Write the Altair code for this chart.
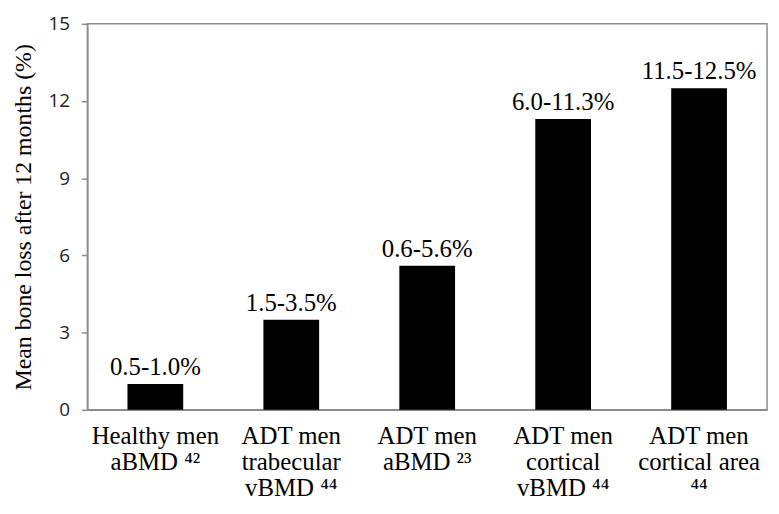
import altair as alt
import pandas as pd

categories = ["Healthy men aBMD 42", "ADT men trabecular vBMD 44", "ADT men aBMD 23",
              "ADT men cortical vBMD 44", "ADT men cortical area 44"]
category_lines = [
    ["Healthy men", "aBMD \u2074\u00b2"],
    ["ADT men", "trabecular", "vBMD \u2074\u2074"],
    ["ADT men", "aBMD \u00b2\u00b3"],
    ["ADT men", "cortical", "vBMD \u2074\u2074"],
    ["ADT men", "cortical area", "\u2074\u2074"],
]
values = [1.0, 3.5, 5.6, 11.3, 12.5]
range_labels = ["0.5-1.0%", "1.5-3.5%", "0.6-5.6%", "6.0-11.3%", "11.5-12.5%"]
y_ticks = [0, 3, 6, 9, 12, 15]

df = pd.DataFrame({"cat": categories, "value": values, "label": range_labels})

label_expr = "{" + ", ".join(
    f'"{c}": {lines!r}'.replace("'", '"') for c, lines in zip(categories, category_lines)
) + "}[datum.value]"

x = alt.X("cat:N", sort=categories, title=None,
          scale=alt.Scale(paddingInner=0.59, paddingOuter=0.295),
          axis=alt.Axis(labelAngle=0, labelExpr=label_expr, ticks=False,
                        labelFont="Liberation Serif", labelFontSize=25, labelColor="#000",
                        labelLineHeight=26, labelPadding=14, domainColor="#8c8c8c",
                        domainWidth=1.5, labelBaseline="top"))

bars = alt.Chart(df).mark_bar(color="#000").encode(
    x=x,
    y=alt.Y("value:Q", title="Mean bone loss after 12 months (%)",
            scale=alt.Scale(domain=[0, 15], nice=False),
            axis=alt.Axis(values=y_ticks, grid=False,
                          labelFont="Open Sans", labelFontSize=19, labelColor="#222",
                          labelPadding=12, tickSize=6, tickColor="#8c8c8c", tickWidth=1.5,
                          domainColor="#8c8c8c", domainWidth=1.5,
                          titleFont="Liberation Serif", titleFontSize=24, titleFontWeight="normal",
                          titleColor="#000", titlePadding=13)),
)

text = alt.Chart(df).mark_text(font="Liberation Serif", fontSize=25, color="#000",
                               baseline="bottom", dy=-4).encode(
    x=alt.X("cat:N", sort=categories),
    y="value:Q",
    text="label:N",
)

chart = (bars + text).properties(
    width=685, height=389,
    autosize=alt.AutoSizeParams(type="none"),
    padding={"left": 80, "top": 14, "right": 4, "bottom": 100},
).configure_view(stroke="#8c8c8c", strokeWidth=1.5)

chart.save("out.html", embed_options={"renderer": "svg", "actions": False})
